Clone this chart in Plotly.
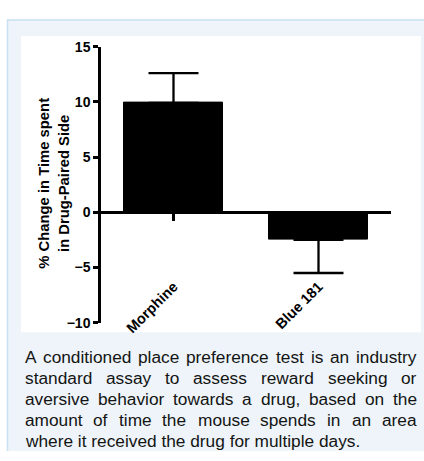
import plotly.graph_objects as go

W, H = 424, 461

# ---- data ----
drugs = ["Morphine", "Blue 181"]
pct_change = [9.9, -2.5]          # % change in time spent on drug-paired side
err_up = [2.7, 0.0]               # SEM drawn away from zero
err_down = [0.0, 3.0]
y_ticks = [-10, -5, 0, 5, 10, 15]
y_title = "% Change in Time spent<br>in Drug-Paired Side"
caption_lines = [
    "A conditioned place preference test is an industry",
    "standard assay to assess reward seeking or",
    "aversive behavior towards a drug, based on the",
    "amount of time the mouse spends in an area",
    "where it received the drug for multiple days.",
]

FONT = "Liberation Sans, Arial, Helvetica, sans-serif"


def px(x):
    return x / W


def py(y):
    return 1 - y / H


# plot area in pixels
x_left, x_right = 101, 391
y_top, y_bottom = 40, 326
y_min, y_max = -10, 15
ydom = [py(y_bottom), py(y_top)]
zero_pos = ydom[0] + (0 - y_min) / (y_max - y_min) * (ydom[1] - ydom[0])

fig = go.Figure()
fig.add_trace(go.Bar(
    x=drugs, y=pct_change, width=0.68,
    marker=dict(color="black", line=dict(color="black", width=1)),
    error_y=dict(type="data", symmetric=False, array=err_up, arrayminus=err_down,
                 color="black", thickness=2.3, width=25),
    showlegend=False, hoverinfo="skip",
))

# Arial advance widths (per 1000 em) used to justify the caption
ARIAL = {
    "a": 556, "b": 556, "c": 500, "d": 556, "e": 556, "f": 278, "g": 556,
    "h": 556, "i": 222, "j": 222, "k": 500, "l": 222, "m": 833, "n": 556,
    "o": 556, "p": 556, "q": 556, "r": 333, "s": 500, "t": 278, "u": 556,
    "v": 500, "w": 722, "x": 500, "y": 500, "z": 500, "A": 667, ",": 278,
    ".": 278, " ": 278,
}


def text_width(s, size):
    return sum(ARIAL.get(c, 556) for c in s) * size / 1000


cap_size = 17.3
cap_left, cap_right = 23.5, 415.7
cap_base0, cap_step = 367.3, 21.7
cap_font = dict(family=FONT, size=cap_size, color="#141414")

annotations = []
for i, line in enumerate(caption_lines):
    base = cap_base0 + i * cap_step
    cy = base - 0.34 * cap_size
    if i == len(caption_lines) - 1:
        # last line of a justified paragraph stays left-aligned
        annotations.append(dict(text=line, x=px(cap_left), y=py(cy), xref="paper", yref="paper",
                                xanchor="left", yanchor="middle", showarrow=False,
                                borderpad=0, font=cap_font))
        continue
    words = line.split(" ")
    total = sum(text_width(w, cap_size) for w in words)
    gap = (cap_right - cap_left - total) / (len(words) - 1)
    x = cap_left
    for w in words:
        annotations.append(dict(text=w, x=px(x), y=py(cy), xref="paper", yref="paper",
                                xanchor="left", yanchor="middle", showarrow=False,
                                borderpad=0, font=cap_font))
        x += text_width(w, cap_size) + gap

# y-axis title
annotations.append(dict(
    text=y_title, textangle=-90, x=px(54), y=py(182), xref="paper", yref="paper",
    xanchor="center", yanchor="middle", showarrow=False, align="center",
    font=dict(family=FONT, size=14.8, color="black", weight="bold"),
))

shapes = [
    # light blue card
    dict(type="rect", xref="paper", yref="paper", x0=px(7), x1=1, y0=py(459), y1=py(12),
         fillcolor="#eef4f9", line=dict(width=0), layer="below"),
    dict(type="line", xref="paper", yref="paper", x0=px(7), x1=1, y0=py(12.5), y1=py(12.5),
         line=dict(color="#c7e1f2", width=1.5), layer="below"),
    dict(type="line", xref="paper", yref="paper", x0=px(7.5), x1=px(7.5), y0=py(459), y1=py(12),
         line=dict(color="#c7e1f2", width=1.5), layer="below"),
    # white chart panel
    dict(type="rect", xref="paper", yref="paper", x0=px(21), x1=px(421), y0=py(336), y1=py(29),
         fillcolor="white", line=dict(width=0), layer="below"),
]

fig.update_layout(
    width=W, height=H,
    margin=dict(l=0, r=0, t=0, b=0),
    paper_bgcolor="white", plot_bgcolor="rgba(0,0,0,0)",
    bargap=0,
    xaxis=dict(
        domain=[px(x_left), px(x_right)], anchor="free", position=zero_pos,
        type="category", range=[-0.5, 1.5],
        showline=True, linecolor="black", linewidth=2.5,
        ticks="outside", ticklen=7, tickwidth=2.5, tickcolor="black",
        showticklabels=False, showgrid=False, zeroline=False, fixedrange=True,
    ),
    xaxis2=dict(
        domain=[px(x_left), px(x_right)], anchor="free", position=py(276), overlaying="x",
        range=[-0.5, 1.5], tickvals=[0, 1], ticktext=drugs, tickangle=-45,
        showline=False, ticks="", showgrid=False, zeroline=False,
        tickfont=dict(family=FONT, size=14.5, color="black", weight="bold"),
    ),
    yaxis=dict(
        domain=ydom, anchor="x", range=[y_min, y_max], tickvals=y_ticks,
        showline=True, linecolor="black", linewidth=2.5,
        ticks="outside", ticklen=5, tickwidth=2.5, tickcolor="black",
        showgrid=False, zeroline=False,
        tickfont=dict(family=FONT, size=14, color="black", weight="bold"),
    ),
    shapes=shapes,
    annotations=annotations,
)

# transparent markers so the label axis is drawn
fig.add_trace(go.Scatter(x=[0, 1], y=[0, 0], xaxis="x2", yaxis="y", mode="markers",
                         marker=dict(opacity=0), showlegend=False, hoverinfo="skip"))

fig.write_html("out.html")
